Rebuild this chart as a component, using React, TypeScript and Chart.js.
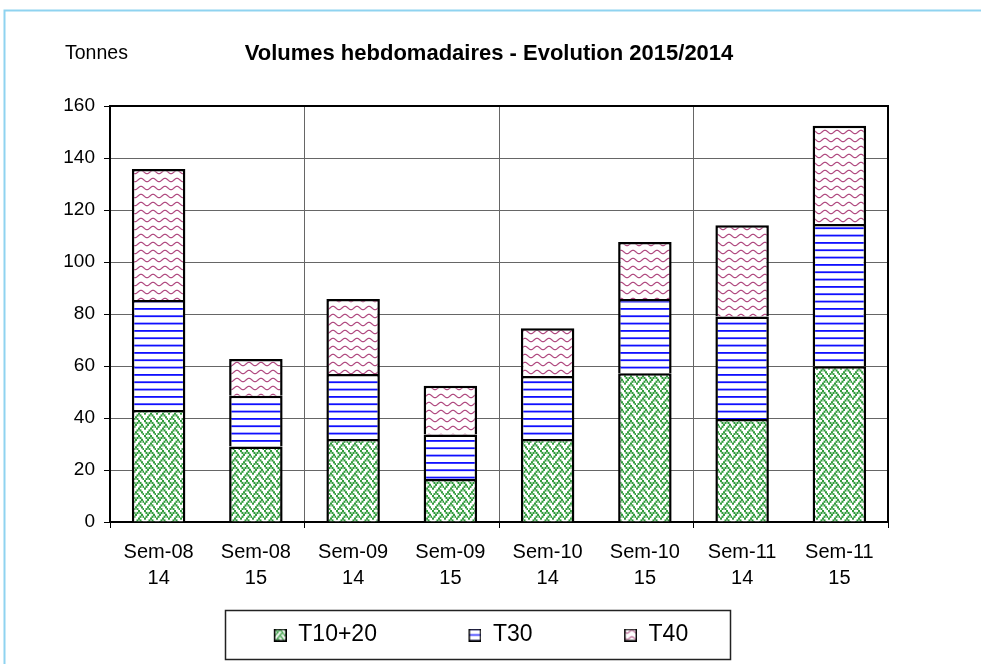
import React, { useEffect, useRef } from 'react';
import { Chart, registerables } from 'chart.js';

Chart.register(...registerables);

// ---------- data ----------
const categories: string[][] = [
  ['Sem-08', '14'], ['Sem-08', '15'],
  ['Sem-09', '14'], ['Sem-09', '15'],
  ['Sem-10', '14'], ['Sem-10', '15'],
  ['Sem-11', '14'], ['Sem-11', '15'],
];
const seriesNames = ['T10+20', 'T30', 'T40'];
const t1020 = [43.1, 29.0, 31.9, 16.5, 31.9, 57.2, 39.6, 59.9];
const t30 = [42.3, 19.6, 25.0, 17.2, 24.3, 28.6, 39.4, 54.7];
const t40 = [50.4, 14.1, 28.9, 18.7, 18.3, 21.9, 35.1, 37.8];
const yMin = 0;
const yMax = 160;
const yStep = 20;
const titleText = 'Volumes hebdomadaires - Evolution 2015/2014';
const unitText = 'Tonnes';

// ---------- styling ----------
const FONT = '"Liberation Sans", Arial, Helvetica, sans-serif';
const weaveBits = [0x88, 0x54, 0x22, 0x45, 0x88, 0x14, 0x22, 0x51];
const LEG_W = 70;
const SQ = 13;

function weaveTile(): HTMLCanvasElement {
  const c = document.createElement('canvas');
  c.width = 12;
  c.height = 15;
  const g = c.getContext('2d')!;
  g.fillStyle = '#ffffff';
  g.fillRect(0, 0, 12, 15);
  g.fillStyle = '#2f9a3a';
  weaveBits.forEach((row, y) => {
    for (let x = 0; x < 8; x++) {
      if (row & (0x80 >> x)) g.fillRect(x * 1.5, y * 1.875, 2, 2.2);
    }
  });
  return c;
}

function hlineTile(): HTMLCanvasElement {
  const c = document.createElement('canvas');
  c.width = 4;
  c.height = 22;
  const g = c.getContext('2d')!;
  g.fillStyle = '#ffffff';
  g.fillRect(0, 0, 4, 22);
  g.fillStyle = '#1010ff';
  [0, 7.33, 14.66].forEach((y) => g.fillRect(0, y, 4, 1.8));
  return c;
}

function waveTile(): HTMLCanvasElement {
  const c = document.createElement('canvas');
  c.width = 12;
  c.height = 8;
  const g = c.getContext('2d')!;
  g.fillStyle = '#ffffff';
  g.fillRect(0, 0, 12, 8);
  g.strokeStyle = '#b04a80';
  g.lineWidth = 1.2;
  g.beginPath();
  for (let x = -2; x <= 14; x += 0.5) {
    const y = 4 + 1.7 * Math.sin((2 * Math.PI * x) / 12);
    if (x === -2) g.moveTo(x, y);
    else g.lineTo(x, y);
  }
  g.stroke();
  return c;
}

function makeLegendImage(tile: HTMLCanvasElement): HTMLCanvasElement {
  const c = document.createElement('canvas');
  c.width = LEG_W;
  c.height = SQ;
  const g = c.getContext('2d')!;
  const p = g.createPattern(tile, 'repeat')!;
  p.setTransform(new DOMMatrix().scale(0.8, 0.8));
  g.fillStyle = p;
  g.fillRect(LEG_W - SQ, 0, SQ, SQ);
  g.strokeStyle = '#000';
  g.lineWidth = 1.5;
  g.strokeRect(LEG_W - SQ + 0.75, 0.75, SQ - 1.5, SQ - 1.5);
  return c;
}

export default function App() {
  const ref = useRef<HTMLCanvasElement>(null);

  useEffect(() => {
    const canvas = ref.current!;
    const ctx = canvas.getContext('2d')!;
    const tiles = [weaveTile(), hlineTile(), waveTile()];
    const patterns = tiles.map((t) => ctx.createPattern(t, 'repeat')!);
    const legendImgs = tiles.map((t) => makeLegendImage(t));
    const values = [t1020, t30, t40];

    const decor = {
      id: 'decor',
      beforeDraw(chart: any) {
        const c = chart.ctx as CanvasRenderingContext2D;
        c.save();
        c.strokeStyle = '#8fd3f0';
        c.lineWidth = 2;
        c.beginPath();
        c.moveTo(4.5, chart.height);
        c.lineTo(4.5, 10.5);
        c.lineTo(chart.width, 10.5);
        c.stroke();
        c.restore();
      },
      afterDraw(chart: any) {
        const c = chart.ctx as CanvasRenderingContext2D;
        const a = chart.chartArea;
        c.save();
        c.strokeStyle = '#000';
        c.lineWidth = 2;
        c.beginPath();
        c.moveTo(a.left, a.top);
        c.lineTo(a.right, a.top);
        c.lineTo(a.right, a.bottom);
        c.stroke();
        c.fillStyle = '#000';
        c.textBaseline = 'alphabetic';
        c.textAlign = 'left';
        c.font = `19.5px ${FONT}`;
        c.fillText(unitText, 65, 58.5);
        c.textAlign = 'center';
        c.font = `bold 22px ${FONT}`;
        c.fillText(titleText, 489, 59.5);
        const hb = chart.legend?.legendHitBoxes;
        if (hb && hb.length) {
          const first = hb[0];
          const last = hb[hb.length - 1];
          const left = first.left + (LEG_W - SQ) - 49;
          const right = last.left + last.width + 42;
          const top = first.top - 13.5;
          const bottom = first.top + 35.5;
          c.strokeStyle = '#222';
          c.lineWidth = 1.5;
          c.strokeRect(Math.round(left) + 0.5, Math.round(top) + 0.5, Math.round(right - left), Math.round(bottom - top));
        }
        c.restore();
      },
    };

    const gridCol = (on: string) => (c: any) =>
      c.index === undefined || c.index % 2 === 0 ? on : 'rgba(0,0,0,0)';

    const chart = new Chart(canvas, {
      type: 'bar',
      data: {
        labels: categories,
        datasets: seriesNames.map((name, i) => ({
          label: name,
          data: values[i],
          backgroundColor: patterns[i] as any,
          borderColor: '#000',
          borderWidth: 2.5,
          barPercentage: 0.55,
          categoryPercentage: 1,
        })),
      },
      options: {
        responsive: false,
        animation: false,
        devicePixelRatio: 1,
        events: [],
        layout: { padding: { top: 106, left: 17, right: 93, bottom: 7.5 } },
        font: { family: FONT },
        scales: {
          x: {
            stacked: true,
            offset: true,
            afterFit: (s: any) => {
              s.height = 67;
            },
            grid: {
              offset: true,
              color: gridCol('#666666'),
              tickColor: gridCol('#000000'),
              tickLength: 6,
              lineWidth: 1,
            },
            border: { color: '#000', width: 2 },
            ticks: {
              color: '#000',
              font: { family: FONT, size: 20, lineHeight: 1.27 },
              padding: 12,
              maxRotation: 0,
              autoSkip: false,
            },
          },
          y: {
            stacked: true,
            min: yMin,
            max: yMax,
            afterFit: (s: any) => {
              s.width = 93;
            },
            grid: {
              color: '#666666',
              tickColor: '#000',
              tickLength: 6,
              lineWidth: 1,
            },
            border: { color: '#000', width: 2 },
            ticks: {
              stepSize: yStep,
              color: '#000',
              font: { family: FONT, size: 19 },
              padding: 9,
            },
          },
        },
        plugins: {
          title: { display: false },
          tooltip: { enabled: false },
          legend: {
            display: true,
            position: 'bottom',
            labels: {
              color: '#000',
              font: { family: FONT, size: 23 },
              padding: 34.5,
              usePointStyle: true,
              pointStyleWidth: LEG_W,
              generateLabels: (ch: any) => {
                const items = (Chart.defaults.plugins.legend.labels as any).generateLabels(ch);
                return items.map((it: any, i: number) => ({
                  ...it,
                  pointStyle: legendImgs[it.datasetIndex ?? i],
                }));
              },
            },
          },
        },
      },
      plugins: [decor],
    } as any);

    return () => chart.destroy();
  }, []);

  return (
    <div style={{ position: 'fixed', left: 0, top: 0, width: 981, height: 664, background: '#fff' }}>
      <canvas ref={ref} width={981} height={664} style={{ display: 'block' }} />
    </div>
  );
}
